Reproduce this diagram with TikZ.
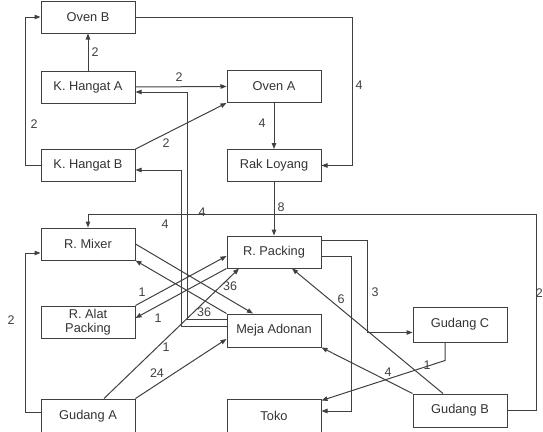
\documentclass[tikz,border=0pt]{standalone}
\usepackage{fontspec}
\setmainfont{Liberation Sans}
\usetikzlibrary{arrows.meta}

\tikzset{
  box/.style = {draw=black!75, line width=1pt, minimum width=94pt, minimum height=32pt,
                inner sep=0pt, font=\fontsize{12.8}{13.5}\selectfont, text=black!80},
  flow/.style = {draw=black!75, line width=1pt, -{Triangle[length=6pt,width=4.5pt]}},
  lbl/.style = {font=\fontsize{12.5}{13}\selectfont, text=black!75, inner sep=0pt}
}

\begin{document}
\begin{tikzpicture}[x = 1pt, y = -1pt]
    \useasboundingbox (0,0) rectangle (543,431);
    % stations
    \node[box] (ovenB)   at (88,17)    {Oven B};
    \node[box] (hangatA) at (88,87)    {K. Hangat A};
    \node[box] (hangatB) at (88,165.5) {K. Hangat B};
    \node[box] (ovenA)   at (274,86.5) {Oven A};
    \node[box] (rak)     at (274,165.5) {Rak Loyang};
    \node[box] (mixer)   at (88,244)   {R. Mixer};
    \node[box] (packing) at (274,252)  {R. Packing};
    \node[box, align=center] (alat) at (88,322) {R. Alat\\Packing};
    \node[box, minimum height=33pt] (meja) at (274,330.5) {Meja Adonan};
    \node[box, minimum height=35pt] (gudangC) at (460,324.5) {Gudang C};
    \node[box, minimum height=34pt] (gudangA) at (88,416) {Gudang A};
    \node[box, minimum height=34pt] (toko)    at (274,416) {Toko};
    \node[box, minimum height=33pt] (gudangB) at (460,410.5) {Gudang B};
    % flows
    \draw[flow] (hangatA.north) -- (ovenB.south);
    \draw[flow] (hangatA.east) -- (ovenA.west);
    \draw[flow] (hangatB.west) -- ++(-15,0) |- (ovenB.west);
    \draw[flow] (hangatB.north east) -- (ovenA.south west);
    \draw[flow] (ovenB.east) -- ++(217,0) |- (rak.east);
    \draw[flow] (ovenA.south) -- (rak.north);
    \draw[flow] (rak.south) -- (packing.north);
    \draw[flow] (gudangB.east) -- ++(28.5,0) |- ([yshift=13pt]mixer.north) -- (mixer.north);
    \draw[flow] ([yshift=-5pt]packing.north east) -- ++(46,0) |- ([yshift=-8pt]gudangC.west);
    \draw[flow] ([yshift=12pt]packing.south east) -- ++(30,0) |- ([yshift=5pt]toko.east);
    \draw[flow] ([xshift=-17pt]gudangB.north) -- ([xshift=18pt]packing.south);
    \draw[flow] (gudangB.north west) -- (meja.south east);
    \draw[flow] ([xshift=-15pt]gudangC.south) -- ++(0,18) -- ([yshift=-2pt]toko.north east);
    \draw[flow] (mixer.east) -- ([xshift=-21pt]meja.north);
    \draw[flow] (meja.north west) -- (mixer.south east);
    \draw[flow] (alat.north east) -- ([yshift=-4pt]packing.west);
    \draw[flow] (packing.south west) -- ([yshift=4pt]alat.east);
    \draw[flow] ([xshift=16pt]gudangA.north) -- ([xshift=-35pt]packing.south);
    \draw[flow] (gudangA.north east) -- ([yshift=-8.5pt]meja.west);
    \draw[flow] ([yshift=4pt]gudangA.west) -- ++(-15,0) |- ([yshift=-9pt]mixer.west);
    \draw[flow] ([yshift=11.5pt]meja.west) -- ++(-39,0) |- ([yshift=-5pt]hangatA.east);
    \draw[flow] ([yshift=4.5pt]meja.west) -- ++(-45,0) |- ([yshift=-4.5pt]hangatB.east);
    % distances
    \foreach \t/\x/\y [count=\i] in {4/359/85, 2/95/52, 2/179/77, 2/34/124, 2/166/143,
        4/262/123, 8/281/207, 4/202/212, 4/165/224, 3/375/292, 6/341/299,
        4/388/372, 1/427/365, 1/142/292, 1/158/318, 36/230/286, 36/204/312,
        1/166/347, 24/157/373, 2/11/320}
        \node[lbl] (d\i) at (\x,\y) {\t};
    \node[lbl, anchor=east] (dright) at (543,293) {2};
\end{tikzpicture}
\end{document}
